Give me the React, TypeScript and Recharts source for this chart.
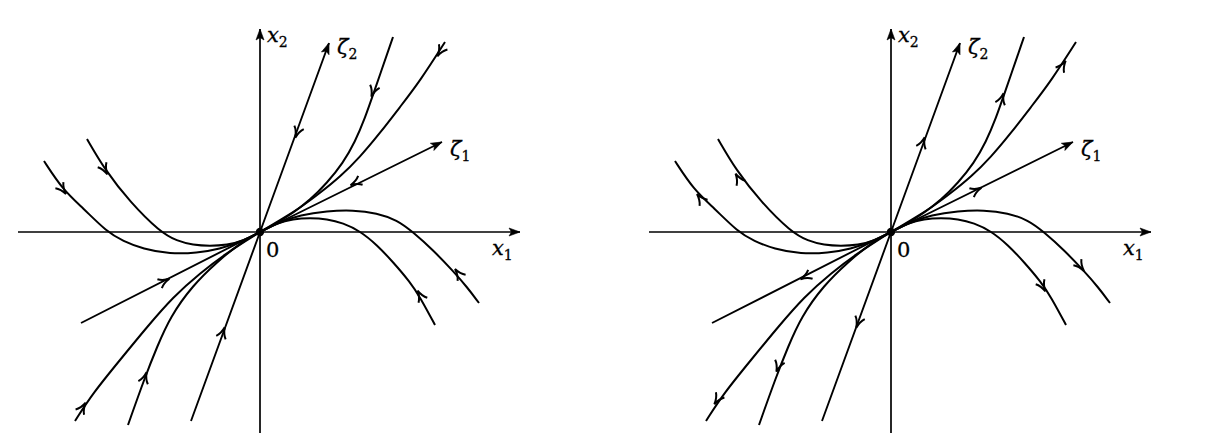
import { ComposedChart, Line, Scatter, XAxis, YAxis } from 'recharts'

type Pt = { x: number; y: number }
type Arrow = { x: number; y: number; dx: number; dy: number }
type Tag = { x: number; y: number; main: string; sub?: string; italic?: boolean }

// trajectories (same in both portraits), x1/x2 units
const curveA: Pt[] = [
  { x: 0, y: 0 }, { x: 0.17, y: 0.09 }, { x: 0.33, y: 0.19 }, { x: 0.5, y: 0.32 },
  { x: 0.67, y: 0.49 }, { x: 0.83, y: 0.69 }, { x: 0.95, y: 0.9 }, { x: 1.05, y: 1.14 },
  { x: 1.13, y: 1.37 }, { x: 1.33, y: 1.95 },
]
const curveB: Pt[] = [
  { x: 0, y: 0 }, { x: 0.2, y: 0.12 }, { x: 0.4, y: 0.24 }, { x: 0.6, y: 0.39 },
  { x: 0.8, y: 0.55 }, { x: 1.0, y: 0.75 }, { x: 1.2, y: 0.99 }, { x: 1.4, y: 1.25 },
  { x: 1.6, y: 1.51 }, { x: 1.85, y: 1.9 },
]
const curveC: Pt[] = [
  { x: 0, y: 0 }, { x: 0.17, y: 0.09 }, { x: 0.33, y: 0.13 }, { x: 0.5, y: 0.14 },
  { x: 0.67, y: 0.13 }, { x: 0.83, y: 0.09 }, { x: 1.0, y: 0.01 }, { x: 1.17, y: -0.13 },
  { x: 1.33, y: -0.3 }, { x: 1.5, y: -0.5 }, { x: 1.6, y: -0.65 }, { x: 1.75, y: -0.93 },
]
const curveD: Pt[] = [
  { x: 0, y: 0 }, { x: 0.2, y: 0.1 }, { x: 0.4, y: 0.17 }, { x: 0.67, y: 0.21 },
  { x: 0.93, y: 0.22 }, { x: 1.17, y: 0.19 }, { x: 1.37, y: 0.12 }, { x: 1.53, y: 0 },
  { x: 1.73, y: -0.18 }, { x: 1.93, y: -0.39 }, { x: 2.07, y: -0.55 }, { x: 2.19, y: -0.71 },
]
const curveCl: Pt[] = [
  { x: -1.73, y: 0.93 }, { x: -1.55, y: 0.62 }, { x: -1.3, y: 0.3 }, { x: -1.0, y: 0.0 },
  { x: -0.83, y: -0.09 }, { x: -0.67, y: -0.13 }, { x: -0.5, y: -0.14 }, { x: -0.33, y: -0.13 },
  { x: -0.17, y: -0.09 }, { x: 0, y: 0 },
]
const curveDl: Pt[] = [
  { x: -2.16, y: 0.71 }, { x: -1.97, y: 0.42 }, { x: -1.77, y: 0.24 }, { x: -1.53, y: 0.0 },
  { x: -1.37, y: -0.09 }, { x: -1.17, y: -0.17 }, { x: -0.9, y: -0.22 }, { x: -0.63, y: -0.21 },
  { x: -0.4, y: -0.17 }, { x: -0.2, y: -0.1 }, { x: 0, y: 0 },
]
const curveAl: Pt[] = [
  { x: 0, y: 0 }, { x: -0.2, y: -0.11 }, { x: -0.43, y: -0.3 }, { x: -0.67, y: -0.53 },
  { x: -0.9, y: -0.85 }, { x: -1.03, y: -1.15 }, { x: -1.15, y: -1.45 }, { x: -1.32, y: -1.93 },
]
const curveBl: Pt[] = [
  { x: 0, y: 0 }, { x: -0.13, y: -0.08 }, { x: -0.33, y: -0.21 }, { x: -0.6, y: -0.41 },
  { x: -0.87, y: -0.65 }, { x: -1.13, y: -0.95 }, { x: -1.4, y: -1.28 }, { x: -1.67, y: -1.61 },
  { x: -1.85, y: -1.89 },
]
const zeta1: Pt[] = [{ x: -1.79, y: -0.91 }, { x: 0, y: 0 }, { x: 1.82, y: 0.9 }]
const zeta2: Pt[] = [{ x: -0.69, y: -1.89 }, { x: 0, y: 0 }, { x: 0.69, y: 1.89 }]
const axisX1: Pt[] = [{ x: -2.42, y: 0 }, { x: 2.6, y: 0 }]
const axisX2: Pt[] = [{ x: 0, y: -2.01 }, { x: 0, y: 2.03 }]

const curves = [curveA, curveB, curveC, curveD, curveCl, curveDl, curveAl, curveBl]

// filled heads at the ends of axes and eigenvector lines
const tips: Arrow[] = [
  { x: 2.6, y: 0, dx: 1, dy: 0 },
  { x: 0, y: 2.03, dx: 0, dy: 1 },
  { x: 1.82, y: 0.9, dx: 1, dy: 0.495 },
  { x: 0.69, y: 1.89, dx: 0.365, dy: 1 },
]

// stable node: flow toward the origin
const stableArrows: Arrow[] = [
  { x: 0.37, y: 0.99, dx: -0.365, dy: -1 },
  { x: -0.37, y: -1.0, dx: 0.365, dy: 1 },
  { x: 0.95, y: 0.49, dx: -1, dy: -0.495 },
  { x: -0.95, y: -0.49, dx: 1, dy: 0.495 },
  { x: 1.13, y: 1.4, dx: -0.3, dy: -0.9 },
  { x: 1.8, y: 1.8, dx: -0.5, dy: -0.8 },
  { x: -1.15, y: -1.45, dx: 0.3, dy: 0.9 },
  { x: -1.77, y: -1.75, dx: 0.5, dy: 0.8 },
  { x: 1.6, y: -0.63, dx: -0.5, dy: 0.9 },
  { x: 1.98, y: -0.41, dx: -0.6, dy: 0.8 },
  { x: -1.97, y: 0.42, dx: 0.6, dy: -0.8 },
  { x: -1.55, y: 0.62, dx: 0.5, dy: -0.9 },
]

// unstable node: flow away from the origin
const unstableArrows: Arrow[] = [
  { x: 0.32, y: 0.9, dx: 0.365, dy: 1 },
  { x: -0.33, y: -0.91, dx: -0.365, dy: -1 },
  { x: 0.86, y: 0.42, dx: 1, dy: 0.495 },
  { x: -0.86, y: -0.45, dx: -1, dy: -0.495 },
  { x: 1.11, y: 1.34, dx: 0.3, dy: 0.9 },
  { x: 1.72, y: 1.67, dx: 0.5, dy: 0.8 },
  { x: -1.13, y: -1.35, dx: -0.3, dy: -0.9 },
  { x: -1.74, y: -1.68, dx: -0.5, dy: -0.8 },
  { x: 1.52, y: -0.55, dx: 0.5, dy: -0.9 },
  { x: 1.9, y: -0.35, dx: 0.6, dy: -0.8 },
  { x: -1.91, y: 0.34, dx: -0.6, dy: 0.8 },
  { x: -1.53, y: 0.54, dx: -0.5, dy: 0.9 },
]

const tags: Tag[] = [
  { x: 0.07, y: 1.9, main: 'x', sub: '2', italic: true },
  { x: 0.77, y: 1.78, main: 'ζ', sub: '2', italic: true },
  { x: 1.9, y: 0.76, main: 'ζ', sub: '1', italic: true },
  { x: 2.32, y: -0.23, main: 'x', sub: '1', italic: true },
  { x: 0.06, y: -0.25, main: '0' },
]
const origin: Pt[] = [{ x: 0, y: 0 }]

function angleOf(p: Arrow) {
  return (Math.atan2(-p.dy, p.dx) * 180) / Math.PI
}

function SolidHead(props: any) {
  const { cx, cy, payload } = props
  if (cx == null || cy == null) return null
  return (
    <path
      d="M0,0 L-11,-4 L-8.5,0 L-11,4 Z"
      fill="#000"
      stroke="#000"
      strokeWidth={0.6}
      transform={`translate(${cx},${cy}) rotate(${angleOf(payload)})`}
    />
  )
}

function BarbHead(props: any) {
  const { cx, cy, payload } = props
  if (cx == null || cy == null) return null
  return (
    <path
      d="M-6,-5 Q-2,-1.2 5,0 Q-2,1.2 -6,5"
      fill="none"
      stroke="#000"
      strokeWidth={2}
      transform={`translate(${cx},${cy}) rotate(${angleOf(payload)})`}
    />
  )
}

function TagText(props: any) {
  const { cx, cy, payload } = props
  if (cx == null || cy == null) return null
  return (
    <text
      x={cx}
      y={cy}
      fontFamily="DejaVu Serif"
      fontSize={21}
      fill="#000"
      stroke="#000"
      strokeWidth={0.3}
    >
      <tspan fontStyle={payload.italic ? 'italic' : 'normal'}>{payload.main}</tspan>
      {payload.sub && (
        <tspan dy={5} fontSize={14} fontStyle="normal">
          {payload.sub}
        </tspan>
      )}
    </text>
  )
}

function Dot(props: any) {
  const { cx, cy } = props
  if (cx == null || cy == null) return null
  return <circle cx={cx} cy={cy} r={4.2} fill="#000" />
}

function Portrait({ arrows }: { arrows: Arrow[] }) {
  const lineProps = {
    dataKey: 'y',
    dot: false,
    activeDot: false,
    stroke: '#000',
    isAnimationActive: false,
    legendType: 'none' as const,
  }
  return (
    <ComposedChart width={575} height={444} margin={{ top: 0, right: 0, bottom: 0, left: 0 }}>
      <XAxis type="number" dataKey="x" domain={[-2.6, 3.15]} allowDataOverflow hide />
      <YAxis type="number" dataKey="y" domain={[-2.12, 2.32]} allowDataOverflow hide />
      <Line {...lineProps} data={axisX1} type="linear" strokeWidth={1.7} />
      <Line {...lineProps} data={axisX2} type="linear" strokeWidth={1.7} />
      <Line {...lineProps} data={zeta1} type="linear" strokeWidth={1.9} />
      <Line {...lineProps} data={zeta2} type="linear" strokeWidth={1.9} />
      {curves.map((c, i) => (
        <Line key={i} {...lineProps} data={c} type="basis" strokeWidth={2} />
      ))}
      <Scatter data={tips} dataKey="y" shape={SolidHead} isAnimationActive={false} />
      <Scatter data={arrows} dataKey="y" shape={BarbHead} isAnimationActive={false} />
      <Scatter data={origin} dataKey="y" shape={Dot} isAnimationActive={false} />
      <Scatter data={tags} dataKey="y" shape={TagText} isAnimationActive={false} />
    </ComposedChart>
  )
}

export default function App() {
  return (
    <div style={{ position: 'absolute', left: 0, top: 0, width: 1206, height: 444, background: '#fff' }}>
      <div style={{ position: 'absolute', left: 0, top: 0 }}>
        <Portrait arrows={stableArrows} />
      </div>
      <div style={{ position: 'absolute', left: 631, top: 0 }}>
        <Portrait arrows={unstableArrows} />
      </div>
    </div>
  )
}
